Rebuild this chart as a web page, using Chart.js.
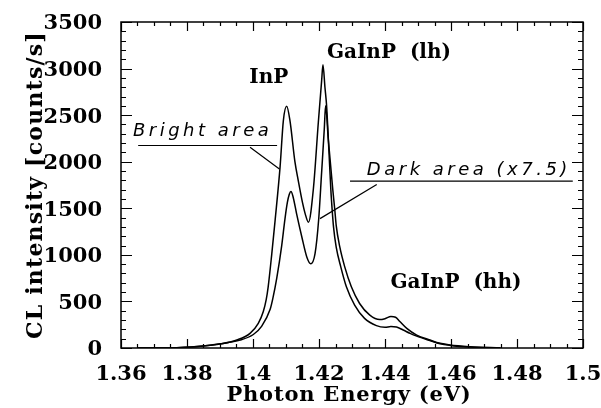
<!DOCTYPE html>
<html><head><meta charset="utf-8">
<script src="https://cdn.jsdelivr.net/npm/chart.js@4.4.1/dist/chart.umd.min.js"></script>
<style>html,body{margin:0;padding:0;background:#fff;}</style>
</head><body>
<canvas id="c" width="601" height="408"></canvas>
<script>
// ---- data ----
const brightEnergy = [1.3650,1.3720,1.3769,1.3849,1.3900,1.3951,1.3991,1.4016,1.4031,1.4040,1.4046,1.4057,1.4067,1.4082,1.4092,1.4102,1.4112,1.4127,1.4137,1.4150,1.4158,1.4168,1.4183,1.4198,1.4208,1.4212,1.4218,1.4223,1.4230,1.4236,1.4240,1.4244,1.4252,1.4266,1.4283,1.4308,1.4338,1.4374,1.4400,1.4418,1.4435,1.4455,1.4476,1.4496,1.4536,1.4567,1.4597,1.4658,1.4750];
const brightIntensity = [0,0,3,21,43,86,157,265,390,520,657,1014,1371,1942,2442,2595,2442,2000,1800,1560,1443,1350,1710,2424,2870,3040,2799,2603,2120,1692,1478,1300,1085,871,657,460,318,240,222,230,225,193,157,128,80,45,28,10,0];
const darkEnergy = [1.3650,1.3720,1.3769,1.3849,1.3900,1.3961,1.4001,1.4026,1.4052,1.4060,1.4072,1.4087,1.4097,1.4104,1.4110,1.4115,1.4121,1.4132,1.4148,1.4163,1.4175,1.4188,1.4199,1.4208,1.4216,1.4220,1.4228,1.4242,1.4248,1.4252,1.4263,1.4278,1.4298,1.4323,1.4354,1.4384,1.4400,1.4418,1.4432,1.4445,1.4466,1.4496,1.4536,1.4567,1.4597,1.4658,1.4750];
const darkIntensity = [0,0,4,22,45,85,145,232,415,530,750,1100,1390,1560,1650,1680,1630,1443,1192,978,905,1014,1380,1888,2350,2600,2246,1692,1478,1320,1085,871,657,478,353,305,315,338,330,285,211,139,86,50,32,14,0];
const xTickValues = [1.36,1.38,1.4,1.42,1.44,1.46,1.48,1.5];
const xTickLabels = ['1.36','1.38','1.4','1.42','1.44','1.46','1.48','1.5'];
const yTickValues = [0,500,1000,1500,2000,2500,3000,3500];
const yTickLabels = ['0','500','1000','1500','2000','2500','3000','3500'];
const peakLabels = ['InP','GaInP  (lh)','GaInP  (hh)'];
const areaLabels = ['Bright area','Dark area (x7.5)'];
const xTitle = 'Photon Energy (eV)';
const yTitle = 'CL intensity [counts/s]';

const toPoints = (xs, ys) => xs.map((v, i) => ({x: v, y: ys[i]}));
const serif = '"DejaVu Serif", serif';

const decor = {
  id: 'decor',
  afterDatasetsDraw(chart) {
    const {ctx, chartArea: a, scales: {x, y}} = chart;
    const px = v => x.getPixelForValue(v), py = v => y.getPixelForValue(v);
    ctx.save();
    ctx.strokeStyle = '#000';
    ctx.lineWidth = 1.5;
    ctx.strokeRect(a.left, a.top, a.right - a.left, a.bottom - a.top);
    ctx.lineWidth = 1.2;
    ctx.beginPath();
    for (let i = 0; i <= 28; i++) {
      const X = Math.round(px(1.36 + i * 0.005)) + 0.5;
      const L = i % 4 === 0 ? 9 : 4;
      ctx.moveTo(X, a.bottom); ctx.lineTo(X, a.bottom - L);
      ctx.moveTo(X, a.top); ctx.lineTo(X, a.top + L);
    }
    for (let i = 0; i <= 35; i++) {
      const Y = Math.round(py(i * 100)) + 0.5;
      const L = i % 5 === 0 ? 11 : 5;
      ctx.moveTo(a.left, Y); ctx.lineTo(a.left + L, Y);
      ctx.moveTo(a.right, Y); ctx.lineTo(a.right - L, Y);
    }
    ctx.stroke();
    // leader lines
    ctx.lineWidth = 1.2;
    ctx.beginPath();
    ctx.moveTo(px(1.3652), py(2174)); ctx.lineTo(px(1.4073), py(2174));
    ctx.moveTo(px(1.3991), py(2156)); ctx.lineTo(px(1.4080), py(1922));
    ctx.moveTo(px(1.4294), py(1792)); ctx.lineTo(px(1.4969), py(1792));
    ctx.moveTo(px(1.4375), py(1756)); ctx.lineTo(px(1.4203), py(1389));
    ctx.stroke();
    // italic area labels
    ctx.fillStyle = '#000';
    ctx.font = 'italic 18px "DejaVu Sans"';
    ctx.letterSpacing = '3.5px';
    ctx.textAlign = 'left';
    ctx.textBaseline = 'alphabetic';
    ctx.fillText(areaLabels[0], px(1.3636), py(2281));
    ctx.fillText(areaLabels[1], px(1.4345), py(1853));
    // bold peak labels
    ctx.letterSpacing = '0px';
    ctx.font = 'bold 20px ' + serif;
    ctx.textAlign = 'center';
    ctx.textBaseline = 'middle';
    ctx.fillText(peakLabels[0], px(1.4048), py(2896));
    ctx.fillText(peakLabels[1], px(1.4412), py(3170));
    ctx.fillText(peakLabels[2], px(1.4615), py(696));
    // axis titles
    ctx.font = 'bold 21px ' + serif;
    ctx.letterSpacing = '0.8px';
    ctx.fillText(xTitle, (a.left + a.right) / 2 - 3, 396);
    ctx.save();
    ctx.translate(36, (a.top + a.bottom) / 2);
    ctx.rotate(-Math.PI / 2);
    ctx.font = 'bold 22px ' + serif;
    ctx.letterSpacing = '1.2px';
    ctx.fillText(yTitle, 0, 0);
    ctx.restore();
    ctx.restore();
  }
};

new Chart(document.getElementById('c'), {
  type: 'line',
  data: {
    datasets: [
      {label: 'Bright area', data: toPoints(brightEnergy, brightIntensity), borderColor: '#000', borderWidth: 1.5, pointRadius: 0, cubicInterpolationMode: 'monotone', fill: false},
      {label: 'Dark area (x7.5)', data: toPoints(darkEnergy, darkIntensity), borderColor: '#000', borderWidth: 1.5, pointRadius: 0, cubicInterpolationMode: 'monotone', fill: false}
    ]
  },
  options: {
    responsive: false,
    animation: false,
    devicePixelRatio: 1,
    layout: {padding: {top: 22, right: 18, left: 0, bottom: 0}},
    plugins: {legend: {display: false}, tooltip: {enabled: false}},
    scales: {
      x: {
        type: 'linear', min: 1.36, max: 1.5,
        afterBuildTicks: s => { s.ticks = xTickValues.map(v => ({value: v})); },
        afterFit: s => { s.height = 60; s.paddingLeft = 0; s.paddingRight = 0; },
        grid: {display: false, drawTicks: false},
        border: {display: false},
        ticks: {
          padding: 14, color: '#000', maxRotation: 0, autoSkip: false,
          font: {family: serif, weight: 'bold', size: 21},
          callback: v => { const i = xTickValues.findIndex(t => Math.abs(t - v) < 1e-6); return i >= 0 ? xTickLabels[i] : ''; }
        },
        title: {display: false}
      },
      y: {
        type: 'linear', min: 0, max: 3500,
        afterBuildTicks: s => { s.ticks = yTickValues.map(v => ({value: v})); },
        afterFit: s => { s.width = 121; s.paddingTop = 0; s.paddingBottom = 0; },
        grid: {display: false, drawTicks: false},
        border: {display: false},
        ticks: {
          padding: 19, color: '#000', autoSkip: false, labelOffset: 2,
          font: {family: serif, weight: 'bold', size: 21},
          callback: v => { const i = yTickValues.indexOf(v); return i >= 0 ? yTickLabels[i] : ''; }
        },
        title: {display: false}
      }
    }
  },
  plugins: [decor]
});
</script>
</body></html>
